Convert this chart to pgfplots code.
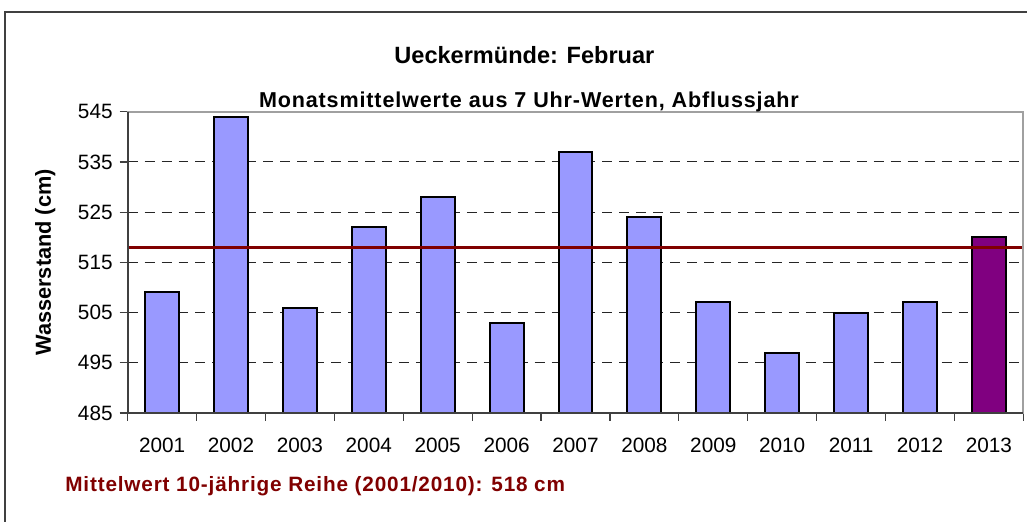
\documentclass[border=0pt]{standalone}
\usepackage{fontspec}
\setmainfont{Liberation Sans}
\usepackage{pgfplots}
\pgfplotsset{compat=1.18}
\definecolor{barblue}{HTML}{9999FF}
\definecolor{barpurple}{HTML}{800080}
\definecolor{meanred}{HTML}{800000}
\definecolor{axdark}{HTML}{404040}
\definecolor{axlight}{HTML}{A0A0A0}
\begin{document}
\begin{tikzpicture}
\begin{axis}[
  scale only axis, width=449pt, height=151pt,
  clip mode=individual,
  xmin=-0.5, xmax=12.5, ymin=485, ymax=545,
  ytick={485,495,...,545},
  xtick={-0.5,0.5,...,12.5},
  xticklabels={},
  extra x ticks={0,1,2,3,4,5,6,7,8,9,10,11,12},
  extra x tick labels={2001,2002,2003,2004,2005,2006,2007,2008,2009,2010,2011,2012,2013},
  extra x tick style={tick style={draw=none}},
  xticklabel style={yshift=-5pt},
  tick align=outside,
  ytick pos=left, xtick pos=bottom,
  major tick length=4pt,
  tick style={axdark, line width=0.6pt},
  axis line style={axlight, line width=0.8pt},
  ymajorgrids,
  grid style={black!85, line width=0.55pt, dash pattern=on 5pt off 3.5pt},
  tick label style={font=\fontsize{10.4}{12}\selectfont, black},
  /pgf/number format/assume math mode=true,
  ylabel={\bfseries Wasserstand (cm)},
  ylabel style={at={(rel axis cs:-0.092,0.5)}, anchor=center, font=\fontsize{10.9}{12}\selectfont},
]
\addplot[ybar, bar shift=0pt, bar width=17pt, fill=barblue, draw=black, line width=1pt]
  coordinates {(0,509) (1,544) (2,506) (3,522) (4,528) (5,503) (6,537) (7,524) (8,507) (9,497) (10,505) (11,507)};
\addplot[ybar, bar shift=0pt, bar width=17pt, fill=barpurple, draw=black, line width=1pt]
  coordinates {(12,520)};
\addplot[meanred, line width=1.6pt] coordinates {(-0.5,518) (12.5,518)};
% axis frame overlays
\draw[axlight, line width=0.9pt] (rel axis cs:0,1) -- (rel axis cs:1,1) -- (rel axis cs:1,0);
\draw[axdark, line width=0.9pt] (rel axis cs:0,1) -- (rel axis cs:0,0) -- (rel axis cs:1,0);
% titles
\node[font=\fontsize{11.8}{13}\selectfont\bfseries] at (rel axis cs:0.443,1.189) {Ueckermünde: Februar};
\node[font=\fontsize{10.8}{13}\selectfont\bfseries\addfontfeature{LetterSpace=4}] at (rel axis cs:0.448,1.033) {Monatsmittelwerte aus 7 Uhr-Werten, Abflussjahr};
\node[anchor=west, inner sep=0pt, text=meanred, font=\fontsize{10.4}{13}\selectfont\bfseries\addfontfeature{LetterSpace=4}] at (rel axis cs:-0.070,-0.242) {Mittelwert 10-jährige Reihe (2001/2010): 518 cm};
% outer frame
\draw[axdark, line width=0.7pt] (rel axis cs:-0.137,-0.361) -- (rel axis cs:-0.137,1.331) -- (rel axis cs:1.0045,1.331);
\path[use as bounding box] (rel axis cs:-0.1425,-0.361) rectangle (rel axis cs:1.0045,1.3709);
\end{axis}
\end{tikzpicture}
\end{document}
